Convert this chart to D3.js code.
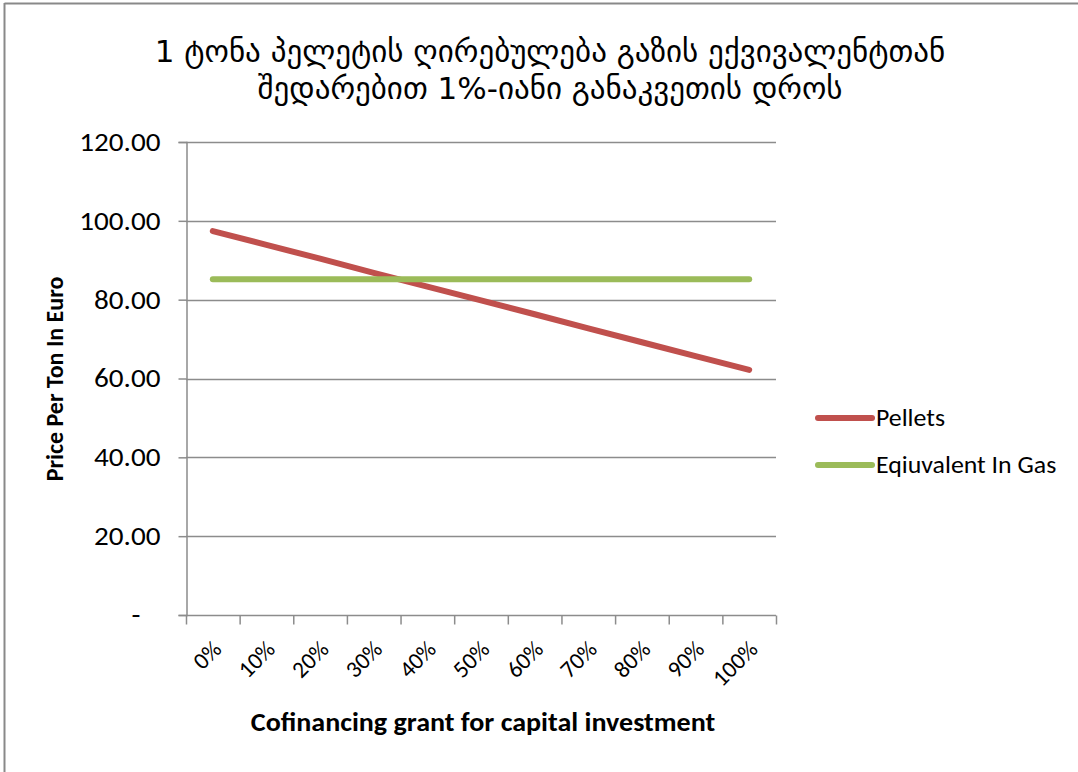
<!DOCTYPE html>
<html>
<head>
<meta charset="utf-8">
<script src="https://cdn.jsdelivr.net/npm/d3@7"></script>
<style>
  html, body { margin: 0; padding: 0; background: #fff; }
  svg { display: block; }
</style>
</head>
<body>
<svg id="chart" width="1078" height="772"></svg>
<script>
// Cofinancing share of capital investment (x categories)
const categories = ["0%", "10%", "20%", "30%", "40%", "50%", "60%", "70%", "80%", "90%", "100%"];
// Price per ton of pellets, EUR
const pellets = [97.4, 93.9, 90.4, 86.8, 83.3, 79.8, 76.3, 72.7, 69.2, 65.7, 62.2];
// Equivalent price of gas, EUR
const gasEquivalent = [85.2, 85.2, 85.2, 85.2, 85.2, 85.2, 85.2, 85.2, 85.2, 85.2, 85.2];
const yTicks = [0, 20, 40, 60, 80, 100, 120];
const seriesNames = ["Pellets", "Eqiuvalent In Gas"];
const titleLines = ["1 ტონა პელეტის ღირებულება გაზის ექვივალენტთან", "შედარებით 1%-იანი განაკვეთის დროს"];

const svg = d3.select("#chart");
const latin = "Carlito, Lato, 'Open Sans', sans-serif";
const georgian = "'DejaVu Sans', 'Noto Sans Georgian', sans-serif";
const sx = 1.1; // slightly widened lettering

// chart frame (top and left edges visible)
svg.append("line").attr("x1", 4.5).attr("x2", 1078).attr("y1", 3.5).attr("y2", 3.5)
  .attr("stroke", "#898989").attr("stroke-width", 2);
svg.append("line").attr("x1", 4.5).attr("x2", 4.5).attr("y1", 3).attr("y2", 772)
  .attr("stroke", "#898989").attr("stroke-width", 2);

const plot = { left: 186, right: 776, top: 142, bottom: 615 };

const x = d3.scaleBand().domain(categories).range([plot.left, plot.right]);
const y = d3.scaleLinear().domain([0, 120]).range([plot.bottom, plot.top]);

// horizontal gridlines
svg.append("g").selectAll("line").data(yTicks.filter(t => t > 0)).join("line")
  .attr("x1", plot.left).attr("x2", plot.right)
  .attr("y1", d => Math.round(y(d)) + 0.5).attr("y2", d => Math.round(y(d)) + 0.5)
  .attr("stroke", "#8c8c8c").attr("stroke-width", 1.5);

// y axis
const tickLen = 8, tickPad = 18;
const yAxis = svg.append("g").attr("transform", `translate(${plot.left + 0.5},0)`)
  .call(d3.axisLeft(y).tickValues(yTicks).tickSize(tickLen).tickPadding(tickPad)
    .tickFormat(d => d === 0 ? "-" : d3.format(".2f")(d)));
yAxis.select(".domain").attr("stroke", "#8c8c8c").attr("stroke-width", 1.5);
yAxis.selectAll(".tick line").attr("stroke", "#8c8c8c").attr("stroke-width", 1.5);
yAxis.selectAll(".tick text")
  .attr("font-family", latin).attr("font-size", 26.5).attr("fill", "#000")
  .attr("x", d => -(tickLen + tickPad + (d === 0 ? 20 : 0)) / sx)
  .attr("transform", `scale(${sx},1)`);

// x axis with ticks at category boundaries
const xAxis = svg.append("g").attr("transform", `translate(0,${plot.bottom + 0.5})`);
xAxis.append("line").attr("x1", plot.left).attr("x2", plot.right)
  .attr("stroke", "#8c8c8c").attr("stroke-width", 1.5);
const boundaries = categories.map(c => x(c)).concat([plot.right]);
xAxis.selectAll("line.tick").data(boundaries).join("line").attr("class", "tick")
  .attr("x1", d => d + 0.5).attr("x2", d => d + 0.5).attr("y1", 0).attr("y2", 9)
  .attr("stroke", "#8c8c8c").attr("stroke-width", 1.5);
xAxis.selectAll("text").data(categories).join("text")
  .attr("transform", d => `translate(${x(d) + x.bandwidth() / 2 + 10},${35}) rotate(-45)`)
  .attr("text-anchor", "end")
  .attr("font-family", latin).attr("font-size", 23.5).attr("fill", "#000")
  .text(d => d);

// series lines
const line = d3.line().x((d, i) => x(categories[i]) + x.bandwidth() / 2).y(d => y(d));
const colors = ["#c0504d", "#9bbb59"];
[pellets, gasEquivalent].forEach((s, i) => {
  svg.append("path").datum(s).attr("d", line)
    .attr("fill", "none").attr("stroke", colors[i]).attr("stroke-width", 6)
    .attr("stroke-linecap", "round");
});

// legend
const legend = svg.append("g");
seriesNames.forEach((name, i) => {
  const ly = 418 + i * 47;
  legend.append("line").attr("x1", 818).attr("x2", 872).attr("y1", ly).attr("y2", ly)
    .attr("stroke", colors[i]).attr("stroke-width", 6).attr("stroke-linecap", "round");
  legend.append("text").attr("transform", `translate(876,${ly + 8}) scale(${sx},1)`)
    .attr("font-family", latin).attr("font-size", 23.5).attr("fill", "#000").text(name);
});

// axis titles
svg.append("text").attr("transform", `translate(483,731) scale(${sx},1)`)
  .attr("text-anchor", "middle").attr("font-family", latin).attr("font-weight", "bold")
  .attr("font-size", 25.5).attr("fill", "#000").text("Cofinancing grant for capital investment");
svg.append("text").attr("transform", `translate(63,379) rotate(-90)`)
  .attr("text-anchor", "middle").attr("font-family", latin).attr("font-weight", "bold")
  .attr("font-size", 24).attr("fill", "#000").text("Price Per Ton In Euro");

// chart title
titleLines.forEach((t, i) => {
  svg.append("text").attr("x", 550).attr("y", 62 + i * 37)
    .attr("text-anchor", "middle").attr("font-family", georgian)
    .attr("font-size", 31).attr("fill", "#000").text(t);
});
</script>
</body>
</html>
